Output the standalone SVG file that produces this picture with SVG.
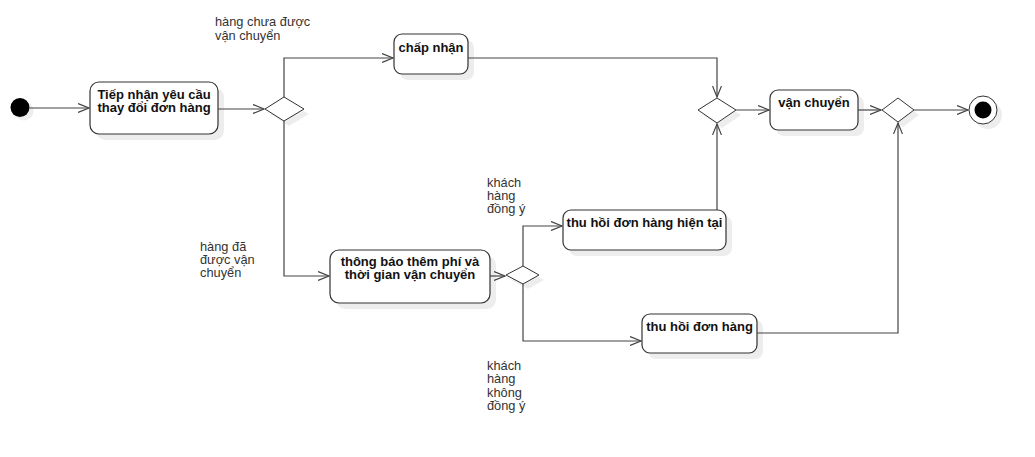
<svg xmlns="http://www.w3.org/2000/svg" width="1035" height="457" viewBox="0 0 1035 457">
<style>
.sh{fill:#000;opacity:0.07}
.box{fill:#fff;stroke:#333;stroke-width:1.2}
.dia{fill:#fff;stroke:#333;stroke-width:1}
.nt{font-family:"Liberation Sans",Arial,sans-serif;font-size:13px;font-weight:bold;fill:#111;text-anchor:middle}
.lb{font-family:"Liberation Sans",Arial,sans-serif;font-size:12.8px;fill:#333}
.cn{fill:none;stroke:#444;stroke-width:1.2;marker-end:url(#arr)}
</style>
<defs>
<marker id="arr" markerWidth="12" markerHeight="10" refX="11" refY="5" orient="auto" markerUnits="userSpaceOnUse">
<path d="M0,0.5 L11,5 L0,9.5" fill="none" stroke="#444" stroke-width="1.2"/>
</marker>
</defs>
<rect width="1035" height="457" fill="#fff"/>

<g id="start">
<circle cx="24" cy="111" r="9.5" class="sh"/>
<circle cx="20" cy="107.5" r="9.5" fill="#000"/>
</g>

<g id="n1">
<rect x="96" y="88" width="128" height="52" rx="9" class="sh"/>
<rect x="90" y="82" width="128" height="52" rx="9" class="box"/>
<text x="154" y="99" class="nt">Tiếp nhận yêu cầu</text>
<text x="154" y="112" class="nt">thay đổi đơn hàng</text>
</g>

<g id="d1">
<polygon points="270,114 289,102 309,114 289,126" class="sh"/>
<polygon points="265,109 284,97 304,109 284,121" class="dia"/>
</g>

<g id="n2">
<rect x="400" y="40" width="74" height="40" rx="8" class="sh"/>
<rect x="394" y="34" width="74" height="40" rx="8" class="box"/>
<text x="431" y="52" class="nt">chấp nhận</text>
</g>

<g id="d2">
<polygon points="703,115 722,103 741,115 722,128" class="sh"/>
<polygon points="698,110 717,98 736,110 717,123" class="dia"/>
</g>

<g id="n3">
<rect x="776" y="96" width="88" height="40" rx="8" class="sh"/>
<rect x="770" y="90" width="88" height="40" rx="8" class="box"/>
<text x="814" y="107" class="nt">vận chuyển</text>
</g>

<g id="d3">
<polygon points="887,115 903,103 919,115 903,127" class="sh"/>
<polygon points="882,110 898,98 914,110 898,122" class="dia"/>
</g>

<g id="end">
<circle cx="988" cy="115" r="14" class="sh"/>
<circle cx="983" cy="110" r="14" fill="#fff" stroke="#333" stroke-width="1"/>
<circle cx="983" cy="110" r="8.5" fill="#000"/>
</g>

<g id="n4">
<rect x="336" y="256" width="160" height="53" rx="9" class="sh"/>
<rect x="330" y="250" width="160" height="53" rx="9" class="box"/>
<text x="410" y="266" class="nt">thông báo thêm phí và</text>
<text x="410" y="279" class="nt">thời gian vận chuyển</text>
</g>

<g id="d4">
<polygon points="511,280 528,271 544,280 528,289" class="sh"/>
<polygon points="506,275 523,266 539,275 523,284" class="dia"/>
</g>

<g id="n5">
<rect x="569" y="216" width="163" height="40" rx="8" class="sh"/>
<rect x="563" y="210" width="163" height="40" rx="8" class="box"/>
<text x="644.5" y="227" class="nt">thu hồi đơn hàng hiện tại</text>
</g>

<g id="n6">
<rect x="648" y="320" width="115" height="39" rx="8" class="sh"/>
<rect x="642" y="314" width="115" height="39" rx="8" class="box"/>
<text x="699.5" y="331" class="nt">thu hồi đơn hàng</text>
</g>

<g id="connectors">
<path d="M29.5,108 H89" class="cn"/>
<path d="M218,109 H264" class="cn"/>
<path d="M284,97 V58 H393" class="cn"/>
<path d="M468,58 H717 V97" class="cn"/>
<path d="M736,110 H769" class="cn"/>
<path d="M858,110 H881" class="cn"/>
<path d="M914,110 H968" class="cn"/>
<path d="M284,121 V276 H329" class="cn"/>
<path d="M490,276 H505" class="cn"/>
<path d="M523,266 V226 H562" class="cn"/>
<path d="M523,284 V341 H641" class="cn"/>
<path d="M717,210 V124" class="cn"/>
<path d="M757,333 H898 V123" class="cn"/>
</g>

<g id="labels">
<text class="lb" x="215" y="26">hàng chưa được</text>
<text class="lb" x="215" y="39.5">vận chuyển</text>
<text class="lb" x="200" y="251">hàng đã</text>
<text class="lb" x="200" y="264">được vận</text>
<text class="lb" x="200" y="277">chuyển</text>
<text class="lb" x="487" y="187">khách</text>
<text class="lb" x="487" y="200">hàng</text>
<text class="lb" x="487" y="213">đồng ý</text>
<text class="lb" x="487" y="370">khách</text>
<text class="lb" x="487" y="383">hàng</text>
<text class="lb" x="487" y="397">không</text>
<text class="lb" x="487" y="410">đồng ý</text>
</g>
</svg>
